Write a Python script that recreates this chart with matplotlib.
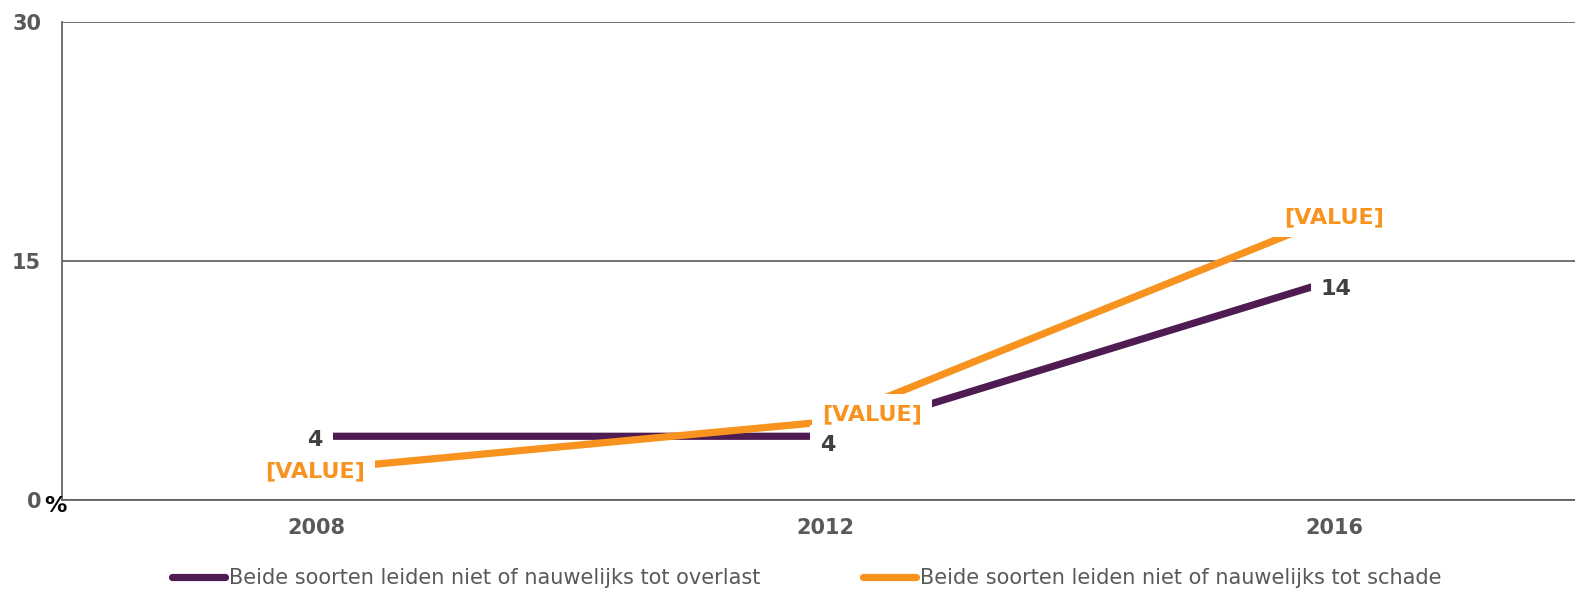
import matplotlib
matplotlib.use("Agg")
import matplotlib.pyplot as plt
from matplotlib.lines import Line2D

# data
years = ["2008", "2012", "2016"]
overlast = [4.0, 4.0, 13.8]
schade = [1.9, 4.9, 17.8]
overlast_labels = ["4", "4", "14"]
schade_labels = ["[VALUE]", "[VALUE]", "[VALUE]"]
series_names = [
    "Beide soorten leiden niet of nauwelijks tot overlast",
    "Beide soorten leiden niet of nauwelijks tot schade",
]
y_ticks = [0, 15, 30]
y_ticklabels = ["0", "15", "30"]

PURPLE = "#4e1b52"
ORANGE = "#f7931e"
GRAY = "#595959"
W, H = 1575, 593

plt.rcParams["font.family"] = ["DejaVu Sans"]

fig = plt.figure(figsize=(W / 100, H / 100), dpi=100)
ax = fig.add_axes([62 / W, 1 - 500 / H, 1 - 62 / W, (500 - 22) / H])

x = list(range(len(years)))
ax.plot(x, overlast, color=PURPLE, lw=5.2, solid_capstyle="butt", zorder=3)
ax.plot(x, schade, color=ORANGE, lw=5.2, solid_capstyle="butt", zorder=4)

ax.set_xlim(-0.5, (W - 317) / 508.5)
ax.set_ylim(0, 30)

for s in ["top", "right"]:
    ax.spines[s].set_visible(False)
for s in ["left", "bottom"]:
    ax.spines[s].set_color(GRAY)
    ax.spines[s].set_linewidth(1.2)
ax.set_yticks(y_ticks)
ax.set_yticklabels(y_ticklabels)
ax.set_xticks(x)
ax.set_xticklabels(years)
ax.tick_params(axis="both", length=0, labelsize=15, labelcolor=GRAY)
ax.tick_params(axis="y", pad=15)
ax.tick_params(axis="x", pad=13)
for lab in ax.get_xticklabels() + ax.get_yticklabels():
    lab.set_fontweight("bold")
ax.yaxis.grid(True, color=GRAY, lw=1.2)
ax.set_axisbelow(True)

ax.annotate("%", (0, 0), xycoords=("axes fraction", "data"), xytext=(-13, -3),
            textcoords="offset points", ha="left", va="center_baseline",
            fontsize=16, fontweight="bold", color="black", zorder=8)

box = dict(boxstyle="square,pad=0.45", fc="white", ec="none")

# data labels (offsets in points)
ov_offsets = [(-1, -1.5), (2, -5), (1.5, -5)]
sc_offsets = [(-1, 0), (34, 7), (0, 1)]
for i in x:
    ax.annotate(overlast_labels[i], (i, overlast[i]), xytext=ov_offsets[i],
                textcoords="offset points", ha="center", va="center_baseline",
                fontsize=16, fontweight="bold", color="#404040", bbox=box, zorder=6)
    ax.annotate(schade_labels[i], (i, schade[i]), xytext=sc_offsets[i],
                textcoords="offset points", ha="center", va="center_baseline",
                fontsize=16, fontweight="bold", color=ORANGE, bbox=box, zorder=7)

handles = [
    Line2D([], [], color=PURPLE, lw=5.2, solid_capstyle="round"),
    Line2D([], [], color=ORANGE, lw=5.2, solid_capstyle="round"),
]
fig.legend(handles, series_names, loc="center left",
           bbox_to_anchor=(172 / W, 1 - 578 / H), ncol=2, frameon=False,
           fontsize=15, labelcolor=GRAY, handlelength=2.55, handletextpad=0.2,
           columnspacing=4.9, borderpad=0, borderaxespad=0)

fig.savefig("out.png", dpi=100)
